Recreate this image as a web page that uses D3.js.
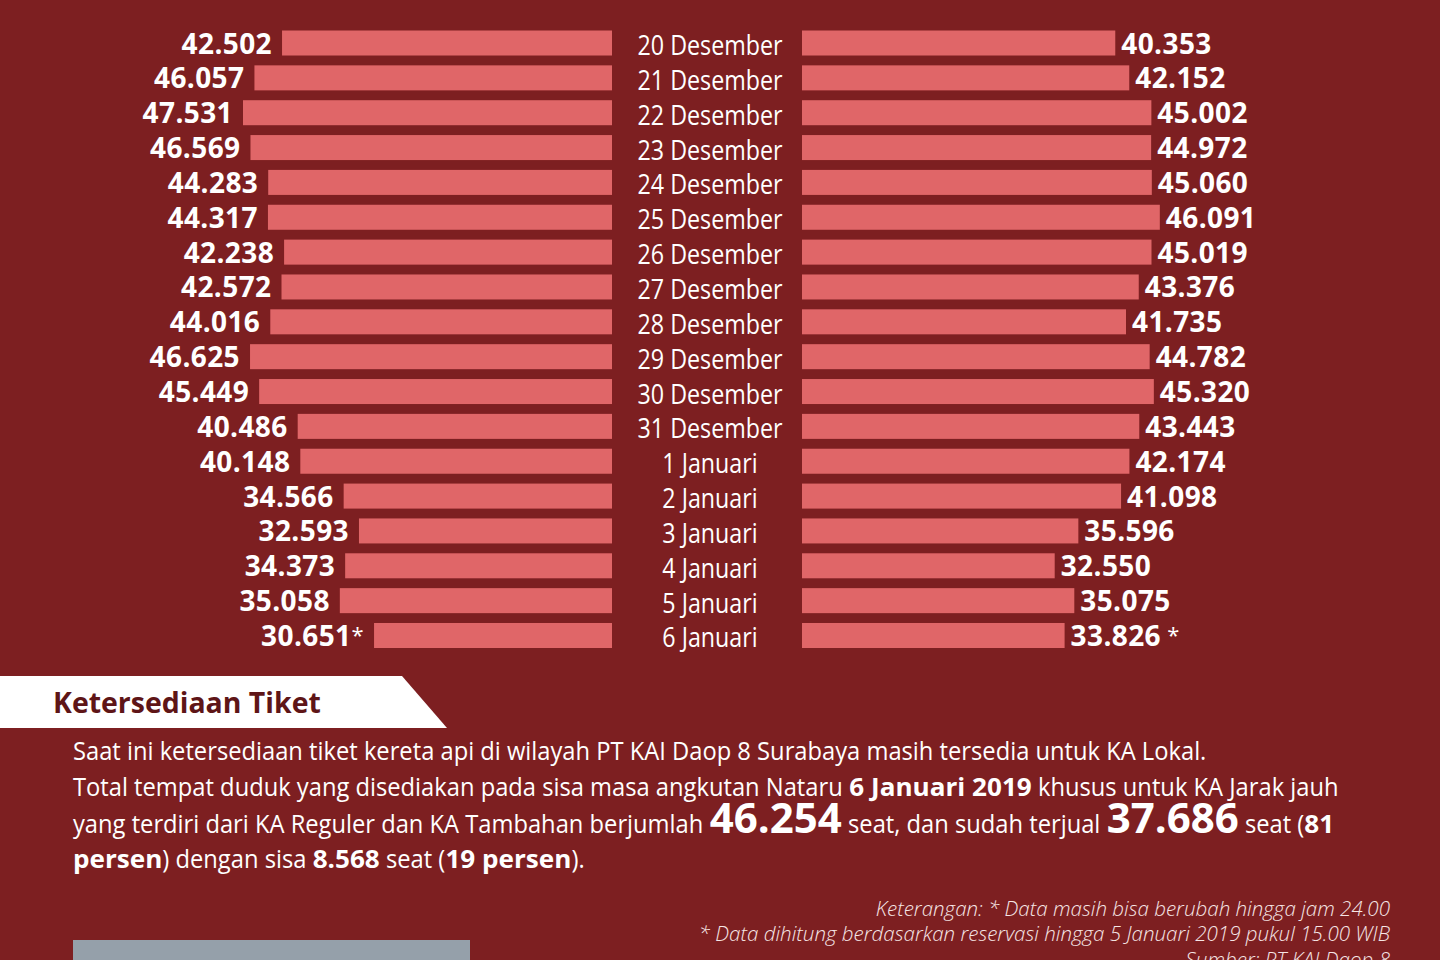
<!DOCTYPE html>
<html>
<head>
<meta charset="utf-8">
<script src="https://cdn.jsdelivr.net/npm/d3@7"></script>
<style>
  html, body { margin: 0; padding: 0; background: #7d1f21; }
  svg { display: block; }
  text { font-family: "Open Sans", "Noto Sans", sans-serif; white-space: pre; }
</style>
</head>
<body>
<div id="chart"></div>
<script>
// data
var dates = [
  "20 Desember", "21 Desember", "22 Desember", "23 Desember", "24 Desember",
  "25 Desember", "26 Desember", "27 Desember", "28 Desember", "29 Desember",
  "30 Desember", "31 Desember", "1 Januari", "2 Januari", "3 Januari",
  "4 Januari", "5 Januari", "6 Januari"
];
var leftValues = [42502, 46057, 47531, 46569, 44283, 44317, 42238, 42572, 44016,
  46625, 45449, 40486, 40148, 34566, 32593, 34373, 35058, 30651];
var rightValues = [40353, 42152, 45002, 44972, 45060, 46091, 45019, 43376, 41735,
  44782, 45320, 43443, 42174, 41098, 35596, 32550, 35075, 33826];
// last day is still provisional (marked with *)
var provisional = ["6 Januari"];

var sectionTitle = "Ketersediaan Tiket";
var paragraph = [
  [["Saat ini ketersediaan tiket kereta api di wilayah PT KAI Daop 8 Surabaya masih tersedia untuk KA Lokal.", "r"]],
  [["Total tempat duduk yang disediakan pada sisa masa angkutan Nataru ", "r"], ["6 Januari 2019", "b"], [" khusus untuk KA Jarak jauh", "r"]],
  [["yang terdiri dari KA Reguler dan KA Tambahan berjumlah ", "r"], ["46.254", "big"], [" seat, dan sudah terjual ", "r"], ["37.686", "big"], [" seat (", "r"], ["81", "b"]],
  [["persen", "b"], [") dengan sisa ", "r"], ["8.568", "b"], [" seat (", "r"], ["19 persen", "b"], [").", "r"]]
];
var notes = [
  "Keterangan: * Data masih bisa berubah hingga jam 24.00",
  "* Data dihitung berdasarkan reservasi hingga 5 Januari 2019 pukul 15.00 WIB",
  "Sumber: PT KAI Daop 8"
];

var svgWidth = 1440;
var svgHeight = 960;

var barColor = "#e06668";
var bgColor = "#7d1f21";

var svg = d3
  .select("#chart")
  .append("svg")
  .attr("width", svgWidth)
  .attr("height", svgHeight);

svg.append("rect")
  .attr("width", svgWidth)
  .attr("height", svgHeight)
  .attr("fill", bgColor);

// indonesian number format: 42.502
var idLocale = d3.formatLocale({ decimal: ",", thousands: ".", grouping: [3], currency: ["Rp", ""] });
var fmt = idLocale.format(",");

// squeeze a text horizontally around its anchor (Myriad-like narrow look)
function squeeze(sel, k, ax) {
  sel.attr("transform", `translate(${ax},0) scale(${k},1) translate(${-ax},0)`);
}

// rows
var yScale = d3.scaleBand()
  .domain(dates)
  .range([30.5, 648])
  .paddingInner(0.2825)
  .paddingOuter(0);

var maxVal = d3.max(leftValues.concat(rightValues));
var lenScale = d3.scaleLinear()
  .domain([0, maxVal])
  .range([0, 369]);

var leftEdge = 612;
var rightEdge = 802;
var centerX = 710;

var rows = dates.map(function (d, i) {
  return { date: d, left: leftValues[i], right: rightValues[i], star: provisional.indexOf(d) >= 0 };
});

var chartGroup = svg.append("g");

// left bars
chartGroup.selectAll("rect.left")
  .data(rows)
  .enter()
  .append("rect")
  .attr("class", "left")
  .attr("x", (d) => leftEdge - lenScale(d.left))
  .attr("y", (d) => yScale(d.date))
  .attr("width", (d) => lenScale(d.left))
  .attr("height", yScale.bandwidth())
  .attr("fill", barColor);

// right bars
chartGroup.selectAll("rect.right")
  .data(rows)
  .enter()
  .append("rect")
  .attr("class", "right")
  .attr("x", rightEdge)
  .attr("y", (d) => yScale(d.date))
  .attr("width", (d) => lenScale(d.right))
  .attr("height", yScale.bandwidth())
  .attr("fill", barColor);

// left values
var leftLabels = chartGroup.selectAll("text.lval")
  .data(rows)
  .enter()
  .append("text")
  .attr("class", "lval")
  .attr("x", (d) => leftEdge - lenScale(d.left) - 10)
  .attr("y", (d) => yScale(d.date) + yScale.bandwidth() - 2)
  .attr("text-anchor", "end")
  .attr("fill", "#fff")
  .style("font-size", "28px")
  .style("letter-spacing", "0.4px")
  .style("font-weight", 700);
leftLabels.append("tspan").text((d) => fmt(d.left));
leftLabels.filter((d) => d.star)
  .append("tspan")
  .attr("dy", -3)
  .style("font-weight", 400)
  .style("font-size", "22px")
  .text("*");

// right values
var rightLabels = chartGroup.selectAll("text.rval")
  .data(rows)
  .enter()
  .append("text")
  .attr("class", "rval")
  .attr("x", (d) => rightEdge + lenScale(d.right) + 6)
  .attr("y", (d) => yScale(d.date) + yScale.bandwidth() - 2)
  .attr("fill", "#fff")
  .style("font-size", "28px")
  .style("letter-spacing", "0.4px")
  .style("font-weight", 700);
rightLabels.append("tspan").text((d) => fmt(d.right));
rightLabels.filter((d) => d.star)
  .append("tspan")
  .attr("dy", -3)
  .style("font-weight", 400)
  .style("font-size", "22px")
  .text(" *");

// date labels in the middle
var dateLabels = chartGroup.selectAll("text.date")
  .data(rows)
  .enter()
  .append("text")
  .attr("class", "date")
  .attr("x", centerX)
  .attr("y", (d) => yScale(d.date) + yScale.bandwidth() - 0.5)
  .attr("text-anchor", "middle")
  .attr("fill", "#fff")
  .style("font-size", "27px")
  .text((d) => d.date);
var kDate = 145 / dateLabels.node().getComputedTextLength();
dateLabels.each(function () { squeeze(d3.select(this), kDate, centerX); });

// section banner
svg.append("polygon")
  .attr("points", "0,676 402,676 447,728 0,728")
  .attr("fill", "#fff");
var title = svg.append("text")
  .attr("x", 53)
  .attr("y", 713)
  .attr("fill", "#5e1517")
  .style("font-size", "29px")
  .style("font-weight", 700)
  .text(sectionTitle);
squeeze(title, 268 / title.node().getComputedTextLength(), 53);

// paragraph, built segment by segment so bold/large parts keep their own width
var segStyle = {
  r: { size: 25, weight: 400 },
  b: { size: 25, weight: 700 },
  big: { size: 42, weight: 700 }
};
var paraX = 73;
var paraBase = [760, 796, 833, 868];

// calibrate the narrow factor from the first line
var probe = svg.append("text")
  .style("font-size", "25px")
  .text(paragraph[0][0][0]);
var kReg = 1134 / probe.node().getComputedTextLength();
probe.remove();
var kFor = { r: kReg, b: kReg * 1.1, big: 1.0 };

var paraGroup = svg.append("g");
paragraph.forEach(function (line, li) {
  var cx = paraX;
  line.forEach(function (seg) {
    var st = segStyle[seg[1]];
    var t = paraGroup.append("text")
      .attr("x", cx)
      .attr("y", paraBase[li])
      .attr("fill", "#fff")
      .style("font-size", st.size + "px")
      .style("font-weight", st.weight)
      .text(seg[0]);
    var w = t.node().getComputedTextLength();
    squeeze(t, kFor[seg[1]], cx);
    cx += w * kFor[seg[1]];
  });
});

// notes, right aligned, italic
var noteBase = [916, 941, 967];
var noteText = svg.append("g").selectAll("text")
  .data(notes)
  .enter()
  .append("text")
  .attr("x", 1390)
  .attr("y", (d, i) => noteBase[i])
  .attr("text-anchor", "end")
  .attr("fill", "#f6e6e6")
  .style("font-size", "20px")
  .style("font-style", "italic")
  .style("font-weight", 300)
  .text((d) => d);
var kNote = 692 / noteText.filter((d, i) => i === 1).node().getComputedTextLength();
noteText.each(function () { squeeze(d3.select(this), kNote, 1390); });

// grey box at the bottom edge
svg.append("rect")
  .attr("x", 73)
  .attr("y", 940)
  .attr("width", 397)
  .attr("height", 20)
  .attr("fill", "#95a0aa");
</script>
</body>
</html>
